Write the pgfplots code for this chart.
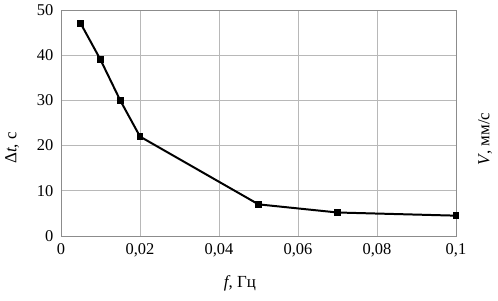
\documentclass[border=0pt]{standalone}
\usepackage{fontspec}
\setmainfont{Liberation Serif}
\usepackage{pgfplots}
\pgfplotsset{compat=1.18}
\begin{document}
\fontsize{16.5}{19}\selectfont
\begin{tikzpicture}
\path[use as bounding box] (-61bp,-65bp) rectangle (437bp,236bp);
\begin{axis}[
  at={(0,0)}, anchor=origin,
  scale only axis, width=395bp, height=226bp,
  xmin=0, xmax=0.1, ymin=0, ymax=50,
  xtick={0,0.02,0.04,0.06,0.08,0.1},
  xticklabels={0,{0,02},{0,04},{0,06},{0,08},{0,1}},
  ytick={0,10,20,30,40,50},
  /pgf/number format/assume math mode=true,
  tick label style={font=\fontsize{16.5}{19}\selectfont},
  grid=major,
  grid style={color=black!28, line width=0.7pt},
  axis line style={color=black!45, line width=0.8pt},
  major tick length=0pt,
  xticklabel style={yshift=-2pt},
  yticklabel style={xshift=-2pt},
  clip=false,
]
\addplot[black, line width=2pt, mark=square*, mark size=2.3pt, mark options={solid}]
  coordinates {(0.005,47) (0.01,39) (0.015,30) (0.02,22) (0.05,7) (0.07,5.2) (0.1,4.5)};
\node[xshift=-49bp, rotate=90] at (rel axis cs:0,0.39) {\fontsize{17}{19}\selectfont Δ\textit{t}, с};
\node[xshift=29bp, rotate=90] at (rel axis cs:1,0.43) {\fontsize{17}{19}\selectfont \textit{V}, мм/с};
\node at (rel axis cs:0.453,0) [yshift=-47bp] {\fontsize{17}{19}\selectfont \textit{f}, Гц};
\end{axis}
\end{tikzpicture}
\end{document}
